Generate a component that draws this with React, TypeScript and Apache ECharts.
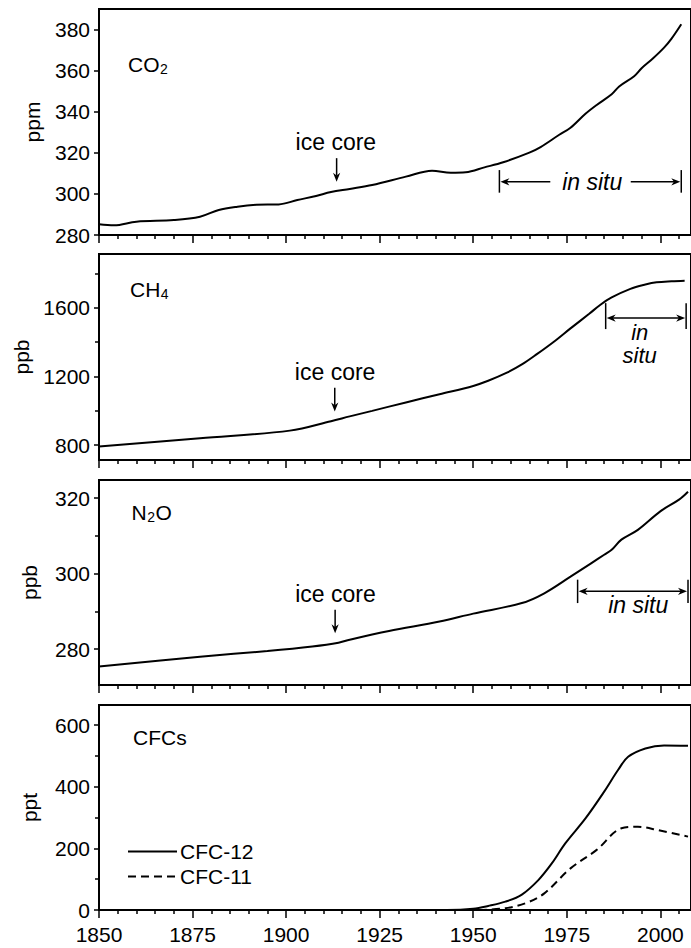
import React, { useEffect, useRef } from "react";
import * as echarts from "echarts";

// ---------- data ----------
const CO2_YEARS = [1850, 1854, 1860, 1870, 1877, 1882, 1887, 1892, 1898, 1903, 1908, 1912, 1917, 1923, 1932, 1939, 1944, 1948, 1953, 1958, 1965, 1968, 1973, 1976, 1980, 1983, 1987, 1989, 1993, 1995, 1998, 2001, 2003, 2005.6];
const CO2_PPM = [285.2, 284.7, 286.5, 287.3, 288.9, 292.2, 293.8, 294.7, 294.9, 297.0, 299.0, 300.9, 302.4, 304.3, 308.4, 311.3, 310.3, 310.5, 312.9, 315.4, 320.1, 322.8, 328.8, 332.2, 339.0, 343.3, 348.5, 352.3, 357.3, 361.2, 365.9, 371.2, 375.6, 382.6];

const CH4_YEARS = [1850, 1877, 1901, 1912, 1917, 1923, 1932, 1941, 1950, 1954, 1959, 1963, 1967, 1972, 1976, 1981, 1984, 1987, 1992, 1996, 1999, 2003, 2006.5];
const CH4_PPB = [792, 841, 885, 940, 968, 1000, 1049, 1097, 1145, 1175, 1222, 1270, 1330, 1410, 1480, 1565, 1618, 1660, 1710, 1735, 1748, 1754, 1757];

const N2O_YEARS = [1850, 1877, 1895, 1907, 1914, 1917, 1927.5, 1941, 1950, 1963, 1969, 1976, 1981.6, 1985, 1987, 1989.6, 1994, 2000, 2005, 2007.4];
const N2O_PPB = [275.4, 278.0, 279.5, 280.7, 281.7, 282.5, 284.8, 287.3, 289.4, 292.2, 294.8, 299.2, 302.8, 305.0, 306.3, 309.0, 311.6, 316.5, 319.6, 321.7];

const CFC12_YEARS = [1930, 1943, 1950, 1954, 1958.6, 1963, 1967.4, 1971, 1974.6, 1980, 1985, 1988.7, 1991.4, 1996, 2001, 2007.4];
const CFC12_PPT = [0, 0, 4, 13, 27, 50, 97, 151, 216, 297, 384, 454, 497, 524, 534, 533];
const CFC11_YEARS = [1951.5, 1958.6, 1964, 1969, 1976, 1983, 1989.6, 1994, 1999.4, 2007.4];
const CFC11_PPT = [0, 6, 22, 54, 135, 195, 265, 270, 259, 238];

const X_MIN = 1850;
const X_MAX = 2008.2;
const MAJOR_YEARS = [1850, 1875, 1900, 1925, 1950, 1975, 2000];
const MINOR_YEARS = [1855, 1860, 1865, 1870, 1880, 1885, 1890, 1895, 1905, 1910, 1915, 1920, 1930, 1935, 1940, 1945, 1955, 1960, 1965, 1970, 1980, 1985, 1990, 1995, 2005];

const PANELS = [
  { label: "CO", sub: "2", tail: "", unit: "ppm", min: 280, max: 390, major: [280, 300, 320, 340, 360, 380], minor: [] as number[], nameGap: 56 },
  { label: "CH", sub: "4", tail: "", unit: "ppb", min: 714, max: 1913, major: [800, 1200, 1600], minor: [1000, 1400, 1800], nameGap: 67 },
  { label: "N", sub: "2", tail: "O", unit: "ppb", min: 270.5, max: 324.8, major: [280, 300, 320], minor: [290, 310], nameGap: 59 },
  { label: "CFCs", sub: "", tail: "", unit: "ppt", min: 0, max: 665, major: [0, 200, 400, 600], minor: [100, 300, 500], nameGap: 59 },
];

// annotation anchors in data space
const ICE_CORE = [
  { text: [1913.3, 325.4], arrow: [1913.5, 317.4, 305.9] },
  { text: [1913.1, 1229], arrow: [1913.0, 1134, 996] },
  { text: [1913.2, 294.6], arrow: [1913.1, 290.4, 284.2] },
];

const LAYOUT = [
  { top: 9, height: 226 },
  { top: 254, height: 206 },
  { top: 480, height: 205 },
  { top: 705, height: 205 },
];

const FONT = "'Liberation Sans', Arial, Helvetica, sans-serif";
const BLACK = "#000";

function zip(xs: number[], ys: number[]) {
  return xs.map((x, i) => [x, ys[i]]);
}

function measure(text: string, size: number, italic = false) {
  const c = document.createElement("canvas").getContext("2d")!;
  c.font = `${italic ? "italic " : ""}${size}px ${FONT}`;
  return c.measureText(text).width;
}

function arrowHead(tip: number[], dir: number[]) {
  const L = 9;
  const W = 3.6;
  const [dx, dy] = dir;
  const nx = -dy;
  const ny = dx;
  return {
    type: "polygon",
    shape: {
      points: [
        [tip[0], tip[1]],
        [tip[0] - dx * L + nx * W, tip[1] - dy * L + ny * W],
        [tip[0] - dx * L * 0.7, tip[1] - dy * L * 0.7],
        [tip[0] - dx * L - nx * W, tip[1] - dy * L - ny * W],
      ],
    },
    style: { fill: BLACK },
    silent: true,
  };
}

function line(x1: number, y1: number, x2: number, y2: number, w = 1.5) {
  return { type: "line", shape: { x1, y1, x2, y2 }, style: { stroke: BLACK, lineWidth: w }, silent: true };
}

function text(str: string, x: number, y: number, size: number, align = "center", italic = false) {
  return {
    type: "text",
    x,
    y,
    style: {
      text: str,
      fontSize: size,
      fontFamily: FONT,
      fontStyle: italic ? "italic" : "normal",
      fill: BLACK,
      align,
      verticalAlign: "middle",
    },
    silent: true,
  };
}

export default function App() {
  const ref = useRef<HTMLDivElement>(null);

  useEffect(() => {
    if (!ref.current) return;
    const chart = echarts.init(ref.current, null, { renderer: "svg" });

    const grid = LAYOUT.map((l) => ({
      left: 99,
      right: -2,
      top: l.top,
      height: l.height,
      show: true,
      borderColor: BLACK,
      borderWidth: 2,
      backgroundColor: "transparent",
    }));

    const xAxis: any[] = [];
    const yAxis: any[] = [];
    PANELS.forEach((p, i) => {
      xAxis.push({
        type: "value",
        gridIndex: i,
        min: X_MIN,
        max: X_MAX,
        position: "bottom",
        axisLine: { show: true, lineStyle: { color: BLACK, width: 2 } },
        axisTick: { show: true, customValues: MAJOR_YEARS, length: 8, lineStyle: { color: BLACK, width: 1.5 } },
        axisLabel: {
          show: i === 3,
          customValues: MAJOR_YEARS,
          margin: 14,
          color: BLACK,
          fontSize: 21,
          fontFamily: FONT,
          formatter: (v: number) => String(v),
        },
        splitLine: { show: false },
      });
      xAxis.push({
        type: "value",
        gridIndex: i,
        min: X_MIN,
        max: X_MAX,
        position: "bottom",
        axisLine: { show: false },
        axisTick: { show: true, customValues: MINOR_YEARS, length: 4, lineStyle: { color: BLACK, width: 1.5 } },
        axisLabel: { show: false },
        splitLine: { show: false },
      });
      yAxis.push({
        type: "value",
        gridIndex: i,
        min: p.min,
        max: p.max,
        position: "left",
        name: p.unit,
        nameLocation: "middle",
        nameGap: p.nameGap,
        nameTextStyle: { color: BLACK, fontSize: 21, fontFamily: FONT },
        axisLine: { show: true, lineStyle: { color: BLACK, width: 2 } },
        axisTick: { show: true, customValues: p.major, length: 5, lineStyle: { color: BLACK, width: 1.5 } },
        axisLabel: {
          show: true,
          customValues: p.major,
          margin: 9,
          color: BLACK,
          fontSize: 21,
          fontFamily: FONT,
          formatter: (v: number) => String(v),
        },
        splitLine: { show: false },
      });
      yAxis.push({
        type: "value",
        gridIndex: i,
        min: p.min,
        max: p.max,
        position: "left",
        axisLine: { show: false },
        axisTick: { show: p.minor.length > 0, customValues: p.minor.length ? p.minor : [p.min], length: 4, lineStyle: { color: BLACK, width: 1.5 } },
        axisLabel: { show: false },
        splitLine: { show: false },
      });
    });

    const lineSeries = (name: string | undefined, idx: number, data: number[][], dashed = false) => ({
      type: "line",
      name,
      xAxisIndex: idx * 2,
      yAxisIndex: idx * 2,
      data,
      symbol: "none",
      smooth: 0.35,
      lineStyle: { color: BLACK, width: 2, type: dashed ? [8, 5] : "solid" },
      itemStyle: { color: BLACK },
      silent: true,
    });

    const series = [
      lineSeries(undefined, 0, zip(CO2_YEARS, CO2_PPM)),
      lineSeries(undefined, 1, zip(CH4_YEARS, CH4_PPB)),
      lineSeries(undefined, 2, zip(N2O_YEARS, N2O_PPB)),
      lineSeries("CFC-12", 3, zip(CFC12_YEARS, CFC12_PPT)),
      lineSeries("CFC-11", 3, zip(CFC11_YEARS, CFC11_PPT), true),
    ];

    chart.setOption({
      animation: false,
      grid,
      xAxis,
      yAxis,
      series,
      legend: {
        data: ["CFC-12", "CFC-11"],
        orient: "vertical",
        left: 127,
        top: 841,
        itemWidth: 49,
        itemHeight: 14,
        itemGap: 4,
        padding: 0,
        itemStyle: { opacity: 0 },
        textStyle: { color: BLACK, fontSize: 21, fontFamily: FONT, lineHeight: 21, padding: [0, 0, 0, -2] },
        selectedMode: false,
      },
    });

    // annotations placed via data -> pixel conversion
    const px = (i: number, x: number, y: number) =>
      chart.convertToPixel({ xAxisIndex: i * 2, yAxisIndex: i * 2 } as any, [x, y]) as number[];

    const g: any[] = [];

    // panel labels with subscripts
    const LABEL_POS = [
      [128, 64],
      [130, 289],
      [131.5, 512],
      [133, 737],
    ];
    PANELS.forEach((p, i) => {
      const [lx, ly] = LABEL_POS[i];
      g.push(text(p.label, lx, ly, 21, "left"));
      if (p.sub) {
        const w = measure(p.label, 21);
        g.push(text(p.sub, lx + w + 0.5, ly + 5, 14, "left"));
        if (p.tail) {
          const ws = measure(p.sub, 14);
          g.push(text(p.tail, lx + w + ws + 1, ly, 21, "left"));
        }
      }
    });

    // ice core labels and arrows
    ICE_CORE.forEach((a, i) => {
      const t = px(i, a.text[0], a.text[1]);
      g.push(text("ice core", t[0], t[1], 23));
      const top = px(i, a.arrow[0], a.arrow[1]);
      const bot = px(i, a.arrow[0], a.arrow[2]);
      g.push(line(top[0], top[1], bot[0], bot[1] - 6));
      g.push(arrowHead([bot[0], bot[1]], [0, 1]));
    });

    // CO2 in situ
    {
      const l = px(0, 1957.0, 311.6);
      const lb = px(0, 1957.0, 300.6);
      const r = px(0, 2005.6, 311.6);
      const rb = px(0, 2005.6, 300.6);
      const mid = px(0, 1981.8, 305.9);
      g.push(line(l[0], l[1], lb[0], lb[1]));
      g.push(line(r[0], r[1], rb[0], rb[1]));
      const laEnd = px(0, 1970.6, 305.9);
      const raStart = px(0, 1992.1, 305.9);
      g.push(line(l[0] + 6, mid[1], laEnd[0], mid[1]));
      g.push(arrowHead([l[0] + 1, mid[1]], [-1, 0]));
      g.push(line(raStart[0], mid[1], r[0] - 6, mid[1]));
      g.push(arrowHead([r[0] - 1, mid[1]], [1, 0]));
      g.push(text("in situ", mid[0], mid[1], 23, "center", true));
    }

    // CH4 in situ
    {
      const l = px(1, 1985.4, 1627);
      const lb = px(1, 1985.4, 1476);
      const r = px(1, 2006.9, 1627);
      const rb = px(1, 2006.9, 1476);
      const ay = px(1, 1994.5, 1540)[1];
      g.push(line(l[0], l[1], lb[0], lb[1]));
      g.push(line(r[0], r[1], rb[0], rb[1]));
      g.push(line(l[0] + 6, ay, r[0] - 6, ay));
      g.push(arrowHead([l[0] + 1, ay], [-1, 0]));
      g.push(arrowHead([r[0] - 1, ay], [1, 0]));
      const t1 = px(1, 1994.5, 1457);
      const t2 = px(1, 1994.5, 1325);
      g.push(text("in", t1[0], t1[1], 22, "center", true));
      g.push(text("situ", t2[0], t2[1], 22, "center", true));
    }

    // N2O in situ
    {
      const l = px(2, 1977.9, 298.4);
      const lb = px(2, 1977.9, 292.2);
      const r = px(2, 2007.4, 298.4);
      const rb = px(2, 2007.4, 292.2);
      const ay = px(2, 1994, 295.3)[1];
      g.push(line(l[0], l[1], lb[0], lb[1]));
      g.push(line(r[0], r[1], rb[0], rb[1]));
      g.push(line(l[0] + 6, ay, r[0] - 6, ay));
      g.push(arrowHead([l[0] + 1, ay], [-1, 0]));
      g.push(arrowHead([r[0] - 1, ay], [1, 0]));
      const t = px(2, 1994.1, 291.6);
      g.push(text("in situ", t[0], t[1], 23, "center", true));
    }

    chart.setOption({ graphic: g });

    return () => chart.dispose();
  }, []);

  return (
    <div
      ref={ref}
      style={{ position: "fixed", left: 0, top: 0, width: 691, height: 948, background: "#fff" }}
    />
  );
}
